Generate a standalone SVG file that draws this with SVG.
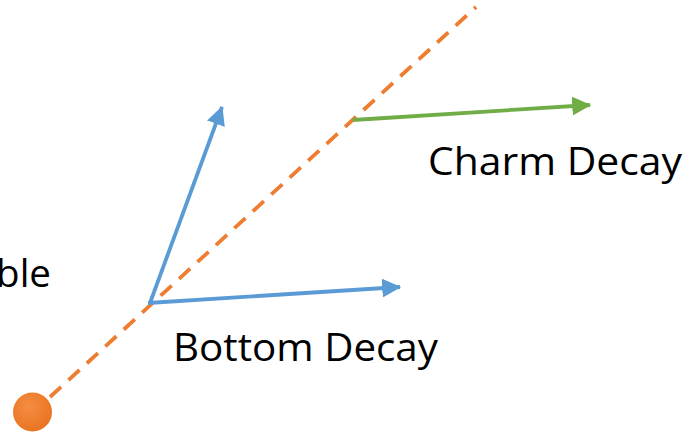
<svg xmlns="http://www.w3.org/2000/svg" width="683" height="432" viewBox="0 0 683 432">
  <defs>
    <style>
      .lbl { font-family: "Open Sans", "Liberation Sans", sans-serif; font-size: 38.5px; fill: #000; }
      .blue { stroke: #5B9BD5; stroke-width: 3.8; fill: none; }
      .green { stroke: #70AD47; stroke-width: 3.8; fill: none; }
      .track { stroke: #ED7D31; stroke-width: 3.8; stroke-dasharray: 15 10; fill: none; }
    </style>
    <marker id="ah-blue" markerUnits="userSpaceOnUse" markerWidth="19" markerHeight="19" viewBox="0 0 16 16" refX="15" refY="8" orient="auto">
      <path d="M0,0 L16,8 L0,16 Z" fill="#5B9BD5"/>
    </marker>
    <marker id="ah-green" markerUnits="userSpaceOnUse" markerWidth="19" markerHeight="19" viewBox="0 0 16 16" refX="15" refY="8" orient="auto">
      <path d="M0,0 L16,8 L0,16 Z" fill="#70AD47"/>
    </marker>
    <radialGradient id="ball" cx="0.4" cy="0.35" r="0.7">
      <stop offset="0" stop-color="#F58C42"/>
      <stop offset="1" stop-color="#E9731F"/>
    </radialGradient>
  </defs>
  <rect width="683" height="432" fill="#fff"/>
  <g id="connectors">
    <line class="track" x1="50" y1="397" x2="476" y2="7"/>
    <line class="blue" x1="150" y1="303" x2="222" y2="107" marker-end="url(#ah-blue)"/>
    <line class="blue" x1="148" y1="303" x2="400" y2="287" marker-end="url(#ah-blue)"/>
    <line class="green" x1="353" y1="120" x2="590" y2="105" marker-end="url(#ah-green)"/>
  </g>
  <g id="particle">
    <circle cx="32.5" cy="412" r="19.5" fill="url(#ball)"/>
    <text class="lbl" x="51" y="287" text-anchor="end">ble</text>
  </g>
  <g id="bottom-decay">
    <text class="lbl" x="173" y="361" textLength="265" lengthAdjust="spacingAndGlyphs">Bottom Decay</text>
  </g>
  <g id="charm-decay">
    <text class="lbl" x="428" y="174.5" textLength="254" lengthAdjust="spacingAndGlyphs">Charm Decay</text>
  </g>
</svg>
